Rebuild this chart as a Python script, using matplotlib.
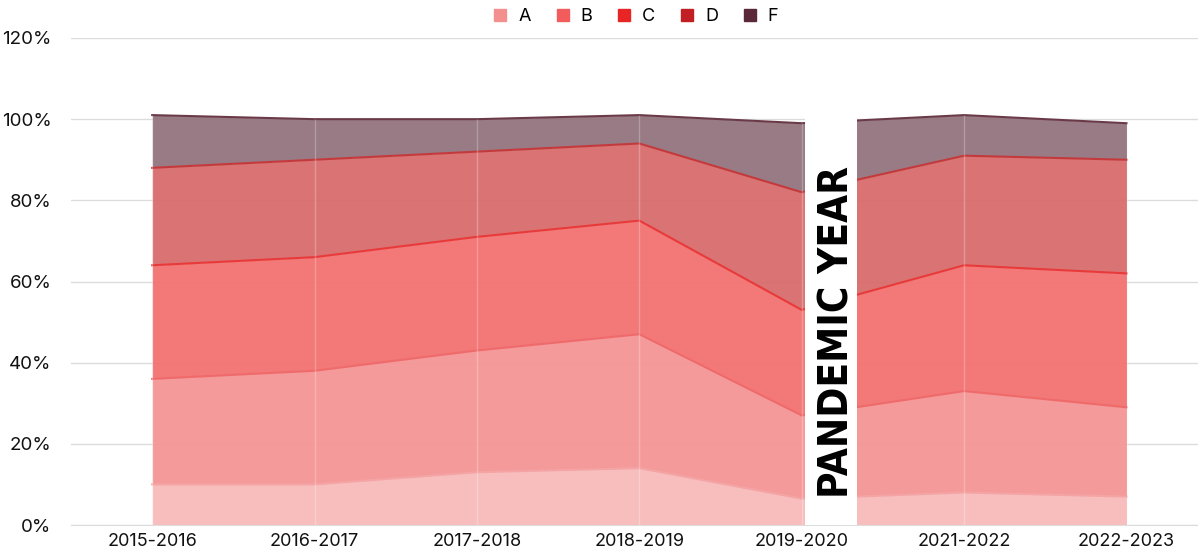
import matplotlib.pyplot as plt
from matplotlib import font_manager
from matplotlib.lines import Line2D
import numpy as np

# school years on the x axis (2020-2021 was not recorded)
years = ['2015-2016', '2016-2017', '2017-2018', '2018-2019',
         '2019-2020', '2021-2022', '2022-2023']

# share of each grade, in percent
grade_a = [10, 10, 13, 14, 6.5, 8, 7]
grade_b = [26, 28, 30, 33, 20.5, 25, 22]
grade_c = [28, 28, 28, 28, 26, 31, 33]
grade_d = [24, 24, 21, 19, 29, 27, 28]
grade_f = [13, 10, 8, 7, 17, 10, 9]

labels = ['A', 'B', 'C', 'D', 'F']
fill_colors = ['#f8bbbb', '#f59595', '#f37171', '#d86c6c', '#93747d']
line_colors = ['#f4a4a4', '#ef6a6a', '#e83a3a', '#c43a3c', '#6a3a48']
legend_colors = ['#f48f8f', '#f25c5c', '#e82525', '#c11f23', '#5a2838']

plt.rcParams['font.family'] = ['Inter', 'DejaVu Sans']

names = {f.name for f in font_manager.fontManager.ttflist}
banner_font = 'Liberation Sans Narrow' if 'Liberation Sans Narrow' in names else 'DejaVu Sans'

fig = plt.figure(figsize=(11.98, 5.54), dpi=100)
ax = fig.add_axes([71 / 1198, 29 / 554, 1127 / 1198, 487 / 554])

x = np.arange(len(years))
series = [grade_a, grade_b, grade_c, grade_d, grade_f]
bottom = np.zeros(len(years))
handles = []
for vals, fc, lc, lab, legc in zip(series, fill_colors, line_colors, labels, legend_colors):
    top = bottom + np.array(vals)
    ax.fill_between(x, bottom, top, color=fc, alpha=0.95, linewidth=0, zorder=2)
    ax.plot(x, top, color=lc, linewidth=1.5, zorder=3)
    handles.append(Line2D([], [], marker='s', linestyle='none', markersize=9,
                          color=legc, label=lab))
    bottom = top

# faint separators at each year
ax.vlines(x, 0, bottom, colors='white', alpha=0.25, linewidth=1, zorder=3)

# pandemic gap
ax.bar(4.18, 102, width=0.32, color='white', zorder=4)
ax.text(4.22, 47.5, 'PANDEMIC YEAR', rotation=90, ha='center', va='center',
        fontsize=29, fontweight='bold', fontfamily=banner_font,
        fontstretch='condensed', color='black', zorder=5)

ax.set_xlim(-0.5, 6.44)
ax.set_ylim(0, 120)
ax.set_yticks(np.arange(0, 121, 20))
ax.set_yticklabels([f'{v}%' for v in range(0, 121, 20)])
ax.set_xticks(x)
ax.set_xticklabels(years)
ax.tick_params(length=0, labelsize=13, colors='#111111')
ax.tick_params(axis='y', labelsize=13.5, pad=14)
ax.tick_params(axis='x', pad=6)
ax.grid(axis='y', color='#dcdcdc', linewidth=1, zorder=0)
ax.set_axisbelow(True)
for side in ['top', 'right', 'left']:
    ax.spines[side].set_visible(False)
ax.spines['bottom'].set_color('#dcdcdc')

fig.legend(handles=handles, loc='upper center', bbox_to_anchor=(0.53, 1.015), ncol=5,
           frameon=False, fontsize=13, handletextpad=0.5, columnspacing=1.25,
           handlelength=1.0)

fig.savefig('out.png', dpi=100)
